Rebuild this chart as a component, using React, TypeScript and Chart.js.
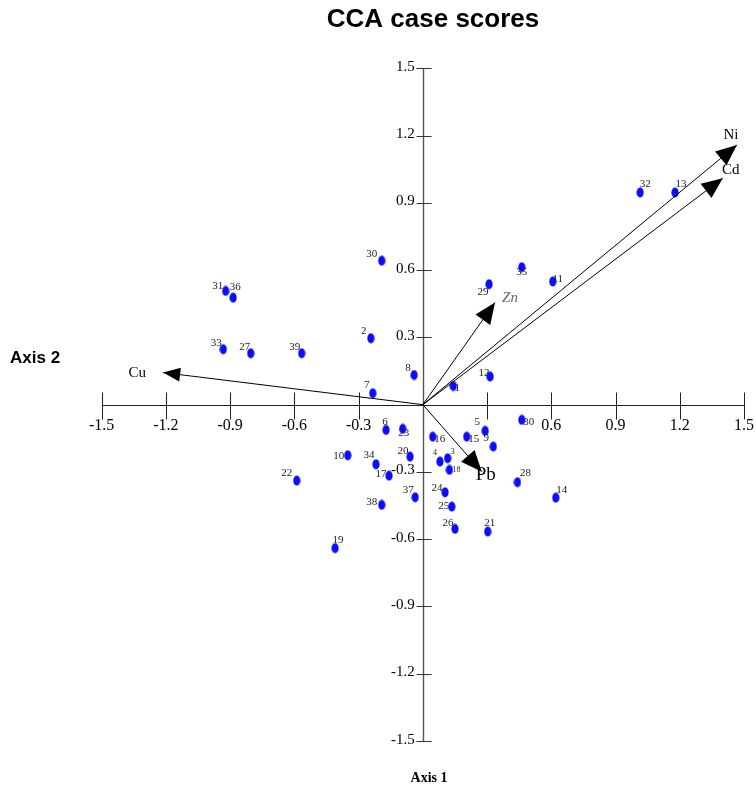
import React, { useEffect, useRef } from 'react';
import { Chart, registerables } from 'chart.js';

Chart.register(...registerables);

// ---- data ----
const caseLabels = ['1','2','3','4','5','6','7','8','9','10','11','12','13','14','15','16','17','18','19','20','21','22','23','24','25','26','27','28','29','30','31','32','33','34','35','36','37','38','39','30'];
const caseX = [0.142,-0.243,0.116,0.080,0.291,-0.172,-0.234,-0.041,0.329,-0.351,0.607,0.314,1.178,0.621,0.205,0.046,-0.158,0.124,-0.410,-0.060,0.303,-0.589,-0.094,0.104,0.135,0.150,-0.804,0.442,0.309,-0.192,-0.921,1.015,-0.932,-0.219,0.462,-0.886,-0.036,-0.192,-0.566,0.462];
const caseY = [0.083,0.296,-0.239,-0.254,-0.117,-0.113,0.051,0.132,-0.187,-0.226,0.549,0.125,0.946,-0.415,-0.143,-0.143,-0.317,-0.291,-0.640,-0.232,-0.566,-0.339,-0.108,-0.391,-0.455,-0.554,0.229,-0.346,0.537,0.642,0.507,0.946,0.247,-0.266,0.613,0.477,-0.413,-0.447,0.229,-0.068];

const envNames = ['Ni','Cd','Zn','Cu','Pb'];
const envX = [1.467,1.401,0.337,-1.213,0.275];
const envY = [1.158,1.010,0.455,0.143,-0.299];

const tickValues = [-1.5,-1.2,-0.9,-0.6,-0.3,0,0.3,0.6,0.9,1.2,1.5];
const xTickLabels = ['-1.5','-1.2','-0.9','-0.6','-0.3','','','0.6','0.9','1.2','1.5'];
const yTickLabels = ['-1.5','-1.2','-0.9','-0.6','-0.3','','0.3','0.6','0.9','1.2','1.5'];

const titleText = 'CCA case scores';
const xAxisTitle = 'Axis 1';
const yAxisTitle = 'Axis 2';

// ---- styles (label placement, in pixels) ----
const caseLabelOffsets: number[][] = [
  [4,2],[-7,-7],[5,-6],[-5,-9],[-8,-9],[-1,-8],[-6,-8],[-6,-7],[-7,-8],[-9,1],
  [5,-2],[-6,-4],[6,-8],[6,-8],[7,2],[7,2],[-8,-2],[7,0],[3,-8],[-7,-6],
  [2,-8],[-10,-8],[1,4],[-8,-4],[-8,-1],[-7,-6],[-6,-6],[8,-9],[-6,8],[-10,-7],
  [-8,-5],[5,-8],[-7,-6],[-7,-9],[0,5],[2,-11],[-7,-7],[-10,-3],[-7,-6],[7,2],
];
const smallCaseLabels = ['3','4','18'];
const envLabelOffsets: number[][] = [[-6,-10],[8,-8],[15,-5],[-26,0],[4,3]];

function makeDot(): HTMLCanvasElement {
  const c = document.createElement('canvas');
  c.width = 8; c.height = 11;
  const g = c.getContext('2d')!;
  g.fillStyle = '#0b0bff';
  g.beginPath();
  g.ellipse(4, 5.5, 3.6, 5.0, 0, 0, Math.PI * 2);
  g.fill();
  return c;
}

const decorPlugin = {
  id: 'ccaDecor',
  beforeDatasetsDraw(chart: any) {
    const { ctx, scales: { x, y } } = chart;
    const x0 = Math.round(x.getPixelForValue(0)) + 0.5;
    const y0 = Math.round(y.getPixelForValue(0)) + 0.5;
    ctx.save();
    ctx.lineWidth = 1;
    ctx.strokeStyle = '#222';
    ctx.beginPath();
    ctx.moveTo(x.getPixelForValue(-1.5), y0);
    ctx.lineTo(x.getPixelForValue(1.5) + 1, y0);
    ctx.stroke();
    tickValues.forEach((v) => {
      if (v === 0) return;
      const px = Math.round(x.getPixelForValue(v)) + 0.5;
      ctx.beginPath();
      ctx.moveTo(px, y0 - 13);
      ctx.lineTo(px, y0 + 14);
      ctx.stroke();
    });
    ctx.strokeStyle = '#555';
    ctx.lineWidth = 1.4;
    ctx.beginPath();
    ctx.moveTo(x0, y.getPixelForValue(1.5));
    ctx.lineTo(x0, y.getPixelForValue(-1.5));
    ctx.stroke();
    ctx.lineWidth = 1;
    ctx.strokeStyle = '#333';
    tickValues.forEach((v) => {
      if (v === 0) return;
      const py = Math.round(y.getPixelForValue(v)) + 0.5;
      ctx.beginPath();
      ctx.moveTo(x0 - 7, py);
      ctx.lineTo(x0 + 8, py);
      ctx.stroke();
    });
    ctx.restore();
  },
  afterDatasetsDraw(chart: any) {
    const { ctx, scales: { x, y } } = chart;
    const ox = x.getPixelForValue(0);
    const oy = y.getPixelForValue(0);
    ctx.save();
    envNames.forEach((name, i) => {
      const tx = x.getPixelForValue(envX[i]);
      const ty = y.getPixelForValue(envY[i]);
      const a = Math.atan2(ty - oy, tx - ox);
      const L = name === 'Cu' ? 17 : 21;
      const W = name === 'Cu' ? 7 : 9;
      const bx = tx - L * Math.cos(a);
      const by = ty - L * Math.sin(a);
      ctx.fillStyle = '#000';
      ctx.beginPath();
      ctx.moveTo(tx, ty);
      ctx.lineTo(bx - W * Math.sin(a), by + W * Math.cos(a));
      ctx.lineTo(bx + W * Math.sin(a), by - W * Math.cos(a));
      ctx.closePath();
      ctx.fill();
      const [dx, dy] = envLabelOffsets[i];
      ctx.textAlign = 'center';
      ctx.textBaseline = 'middle';
      if (name === 'Zn') {
        ctx.fillStyle = '#666';
        ctx.font = 'italic 15px "Liberation Serif"';
      } else if (name === 'Pb') {
        ctx.fillStyle = '#000';
        ctx.font = '19px "Liberation Serif"';
      } else {
        ctx.fillStyle = '#000';
        ctx.font = '15px "Liberation Serif"';
      }
      ctx.fillText(name, tx + dx, ty + dy);
    });
    ctx.fillStyle = '#222';
    ctx.textAlign = 'center';
    ctx.textBaseline = 'middle';
    caseLabels.forEach((lab, i) => {
      const px = x.getPixelForValue(caseX[i]);
      const py = y.getPixelForValue(caseY[i]);
      const [dx, dy] = caseLabelOffsets[i];
      ctx.font = smallCaseLabels.includes(lab) ? '8px "Liberation Serif"' : '11px "Liberation Serif"';
      ctx.fillText(lab, px + dx, py + dy);
    });
    ctx.fillStyle = '#000';
    ctx.font = '16px "Liberation Serif"';
    ctx.textAlign = 'center';
    ctx.textBaseline = 'middle';
    tickValues.forEach((v, i) => {
      const t = xTickLabels[i];
      if (!t) return;
      ctx.fillText(t, x.getPixelForValue(v), oy + 21);
    });
    ctx.font = '15px "Liberation Serif"';
    ctx.textAlign = 'right';
    ctx.textBaseline = 'alphabetic';
    tickValues.forEach((v, i) => {
      const t = yTickLabels[i];
      if (!t) return;
      ctx.fillText(t, ox - 8, y.getPixelForValue(v) + 2.5);
    });
    ctx.fillStyle = '#000';
    ctx.textAlign = 'center';
    ctx.textBaseline = 'middle';
    ctx.font = 'bold 26px "Liberation Sans"';
    ctx.fillText(titleText, 433, 20);
    ctx.font = 'bold 14px "Liberation Serif"';
    ctx.fillText(xAxisTitle, 429, 778);
    ctx.textAlign = 'left';
    ctx.font = 'bold 17px "Liberation Sans"';
    ctx.fillText(yAxisTitle, 10, 358);
    ctx.restore();
  },
};

export default function App() {
  const ref = useRef<HTMLCanvasElement | null>(null);
  useEffect(() => {
    document.body.style.margin = '0';
    const canvas = ref.current;
    if (!canvas) return;
    const dot = makeDot();
    const caseData = caseX.map((v, i) => ({ x: v, y: caseY[i] }));
    const arrowSets = envNames.map((n, i) => ({
      label: n,
      data: [{ x: 0, y: 0 }, { x: envX[i], y: envY[i] }],
      showLine: true,
      borderColor: '#000',
      borderWidth: 1,
      pointRadius: 0,
      pointHoverRadius: 0,
    }));
    const chart = new Chart(canvas, {
      type: 'scatter',
      data: {
        datasets: [
          ...arrowSets,
          {
            label: 'cases',
            data: caseData,
            pointStyle: dot as any,
            pointRadius: 4,
            backgroundColor: '#0b0bff',
            borderColor: '#0b0bff',
          },
        ] as any,
      },
      options: {
        animation: false,
        responsive: true,
        maintainAspectRatio: false,
        layout: { padding: { left: 101.7, right: 12, top: 68.3, bottom: 52 } },
        plugins: { legend: { display: false }, tooltip: { enabled: false }, title: { display: false } },
        scales: {
          x: { type: 'linear', min: -1.5, max: 1.5, display: false },
          y: { type: 'linear', min: -1.5, max: 1.5, display: false },
        },
      },
      plugins: [decorPlugin],
    });
    return () => chart.destroy();
  }, []);
  return (
    <div style={{ width: 756, height: 793, position: 'relative', background: '#fff' }}>
      <canvas ref={ref} />
    </div>
  );
}
